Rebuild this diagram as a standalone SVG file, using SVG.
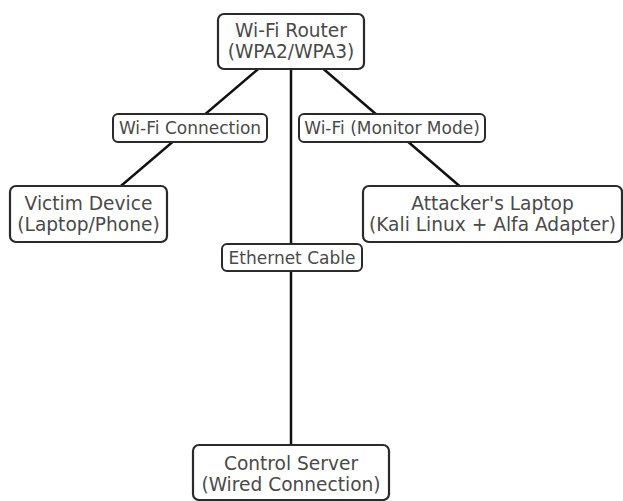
<svg xmlns="http://www.w3.org/2000/svg" width="623" height="501" viewBox="0 0 623 501">
  <style>
    .edge { stroke: #111; stroke-width: 2.5; fill: none; }
    .node rect { fill: #fff; stroke: #2a2a2a; stroke-width: 2.2; }
    .lbl rect { fill: #fff; stroke: #2a2a2a; stroke-width: 2; }
    text { font-family: "DejaVu Sans", sans-serif; fill: #4a4a4a; text-anchor: middle; }
    .node text { font-size: 18.6px; }
    .lbl text { font-size: 17px; }
  </style>
  <rect width="623" height="501" fill="#fff"/>

  <!-- connectors, drawn centre to centre beneath the boxes -->
  <g id="connectors">
    <line class="edge" x1="291" y1="41" x2="88" y2="214"/>
    <line class="edge" x1="291" y1="41" x2="492" y2="214"/>
    <line class="edge" x1="291" y1="41" x2="291" y2="474"/>
  </g>

  <!-- edge labels -->
  <g id="label-wifi" class="lbl">
    <rect x="113" y="114" width="154" height="28" rx="5"/>
    <text x="190" y="134">Wi-Fi Connection</text>
  </g>
  <g id="label-monitor" class="lbl">
    <rect x="299" y="114" width="186" height="28" rx="5"/>
    <text x="392" y="134">Wi-Fi (Monitor Mode)</text>
  </g>
  <g id="label-ethernet" class="lbl">
    <rect x="222" y="244" width="140" height="27" rx="5"/>
    <text x="292" y="263.5">Ethernet Cable</text>
  </g>

  <!-- nodes -->
  <g id="router" class="node">
    <rect x="218" y="14" width="146" height="55" rx="6"/>
    <text x="291" y="36.5">Wi-Fi Router</text>
    <text x="291" y="57.5">(WPA2/WPA3)</text>
  </g>
  <g id="victim" class="node">
    <rect x="10" y="186" width="157" height="56" rx="6"/>
    <text x="88.5" y="209.5">Victim Device</text>
    <text x="88.5" y="230.5">(Laptop/Phone)</text>
  </g>
  <g id="attacker" class="node">
    <rect x="363" y="186" width="259" height="56" rx="6"/>
    <text x="492.5" y="209.5">Attacker's Laptop</text>
    <text x="492.5" y="230.5">(Kali Linux + Alfa Adapter)</text>
  </g>
  <g id="server" class="node">
    <rect x="193" y="445" width="196" height="55" rx="6"/>
    <text x="291" y="470">Control Server</text>
    <text x="291" y="491">(Wired Connection)</text>
  </g>
</svg>
